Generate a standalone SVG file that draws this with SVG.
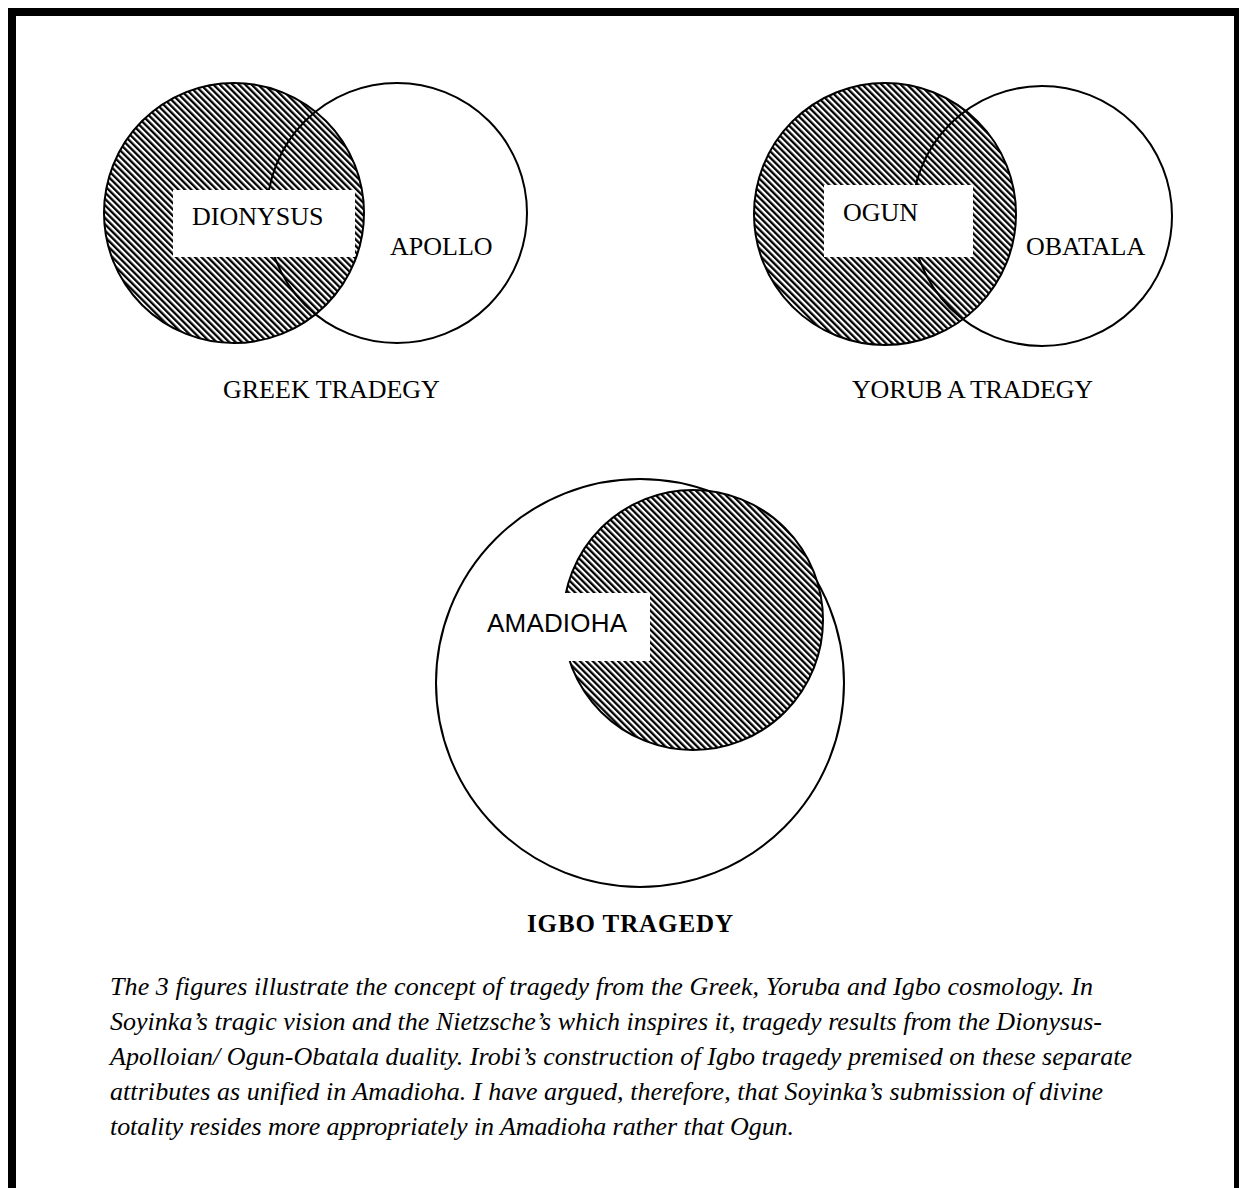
<svg xmlns="http://www.w3.org/2000/svg" width="1239" height="1188" viewBox="0 0 1239 1188">
<defs>
<pattern id="hatch" patternUnits="userSpaceOnUse" width="4.5" height="4.5" patternTransform="rotate(-45)">
<rect x="0" y="0" width="4.5" height="4.5" fill="#fff"/>
<rect x="0" y="0" width="2.3" height="4.5" fill="#000"/>
</pattern>
</defs>
<style>
.c{stroke:#000;stroke-width:2}
.h{fill:url(#hatch)}
.o{fill:none}
.box{fill:#fff}
.t{font-family:"Liberation Serif","Times New Roman",serif;font-size:26px;fill:#000}
.s{font-family:"Liberation Sans",Arial,sans-serif;font-size:26px;fill:#000}
.b{font-family:"Liberation Serif","Times New Roman",serif;font-size:25px;font-weight:bold;fill:#000}
.p{font-family:"Liberation Serif","Times New Roman",serif;font-size:26px;font-style:italic;fill:#000}
</style>
<rect width="1239" height="1188" fill="#fff"/>
<rect x="12" y="12" width="1226" height="1182" fill="none" stroke="#000" stroke-width="8"/>

<g id="greek">
<circle class="c h" cx="234" cy="213" r="130"/>
<circle class="c o" cx="397" cy="213" r="130"/>
<rect class="box" x="173" y="190" width="182" height="67"/>
<text class="t" x="192" y="225">DIONYSUS</text>
<text class="t" x="390" y="255">APOLLO</text>
<text class="t" x="223" y="398">GREEK TRADEGY</text>
</g>

<g id="yoruba">
<circle class="c h" cx="885" cy="214" r="131"/>
<circle class="c o" cx="1042" cy="216" r="130"/>
<rect class="box" x="824" y="185" width="149" height="72"/>
<text class="t" x="843" y="221">OGUN</text>
<text class="t" x="1026" y="255">OBATALA</text>
<text class="t" x="852" y="398" textLength="241">YORUB A TRADEGY</text>
</g>

<g id="igbo">
<circle class="c o" cx="640" cy="683" r="204"/>
<circle class="c h" cx="693" cy="620" r="130"/>
<rect class="box" x="559" y="593" width="91" height="68"/>
<text class="s" x="487" y="632" textLength="140">AMADIOHA</text>
<text class="b" x="527" y="932" textLength="206">IGBO TRAGEDY</text>
</g>

<g id="caption">
<text class="p" x="110" y="995" textLength="983">The 3 figures illustrate the concept of tragedy from the Greek, Yoruba and Igbo cosmology. In</text>
<text class="p" x="110" y="1030" textLength="992">Soyinka’s tragic vision and the Nietzsche’s which inspires it, tragedy results from the Dionysus-</text>
<text class="p" x="110" y="1065" textLength="1022">Apolloian/ Ogun-Obatala duality. Irobi’s construction of Igbo tragedy premised on these separate</text>
<text class="p" x="110" y="1100" textLength="993">attributes as unified in Amadioha. I have argued, therefore, that Soyinka’s submission of divine</text>
<text class="p" x="110" y="1135" textLength="684">totality resides more appropriately in Amadioha rather that Ogun.</text>
</g>
<g id="connectors"/>
</svg>
